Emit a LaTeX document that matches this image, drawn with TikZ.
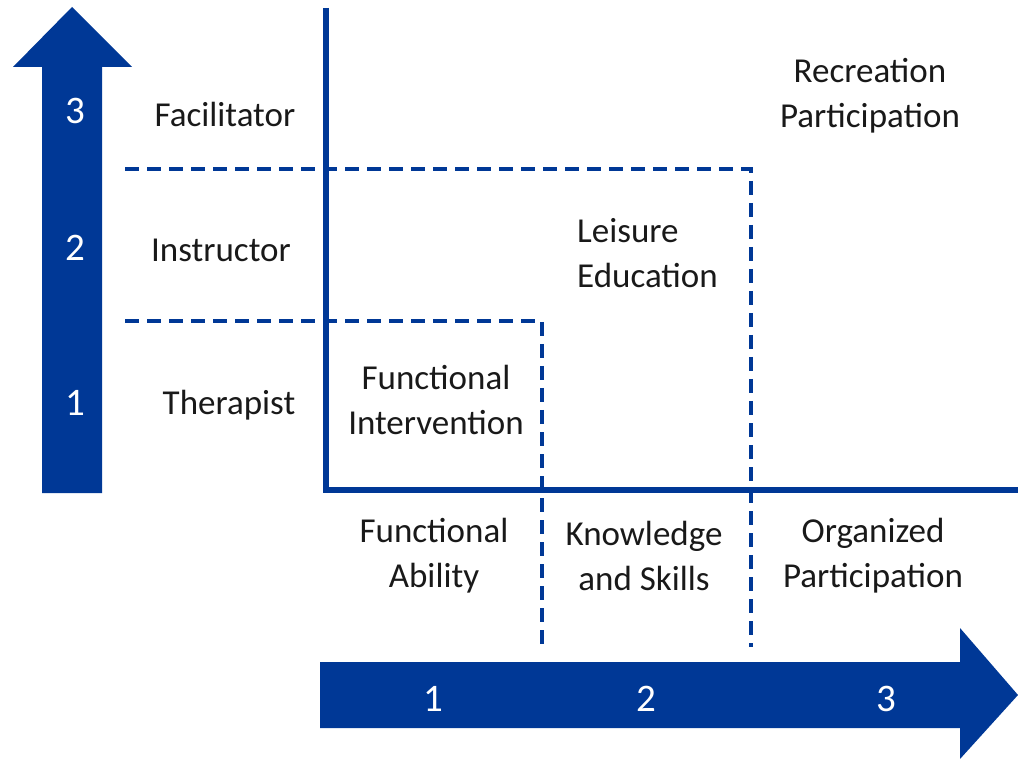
\documentclass[tikz,border=0pt]{standalone}
\usepackage{fontspec}
\setmainfont{Carlito}
\definecolor{darkblue}{RGB}{0,56,150}

\begin{document}
\begin{tikzpicture}[x=1pt,y=-1pt,
  every node/.style={font=\fontsize{35}{45}\selectfont, align=center, inner sep=0pt, text=black!90},
  num/.style={text=white, font=\fontsize{39}{45}\selectfont},
  solidline/.style={darkblue, line width=6pt},
  dashline/.style={darkblue, line width=4pt, dash pattern=on 14pt off 8pt}]
\useasboundingbox (0,0) rectangle (1018,759);

\fill[darkblue] (42,493) -- (42,67) -- (13,67) -- (72,7) -- (132,67) -- (102,67) -- (102,493) -- cycle;
\fill[darkblue] (320,662) -- (960,662) -- (960,628) -- (1018,695) -- (960,759) -- (960,728) -- (320,728) -- cycle;

\draw[dashline] (125,169) -- (751,169) -- (751,647);
\draw[dashline] (125,321) -- (542,321) -- (542,647);
\draw[solidline] (326,8) -- (326,490) -- (1018,490);

\node[num] (v3) at (75,111) {3};
\node[num] (v2) at (75,248) {2};
\node[num] (v1) at (75,403) {1};
\node[num] (h1) at (433,699) {1};
\node[num] (h2) at (646,699) {2};
\node[num] (h3) at (886,699) {3};

\node (facil) at (225,114) {Facilitator};
\node (instr) at (221,250) {Instructor};
\node (thera) at (229,405) {Therapist};

\node (recr) at (870,96) {Recreation\\Participation};
\node[align=left, anchor=west] (leis) at (577,253) {Leisure\\Education};
\node (funint) at (436,400) {Functional\\Intervention};

\node (funab) at (434,556) {Functional\\Ability};
\node (know) at (644,556) {Knowledge\\and Skills};
\node (orga) at (873,556) {Organized\\Participation};
\end{tikzpicture}
\end{document}
